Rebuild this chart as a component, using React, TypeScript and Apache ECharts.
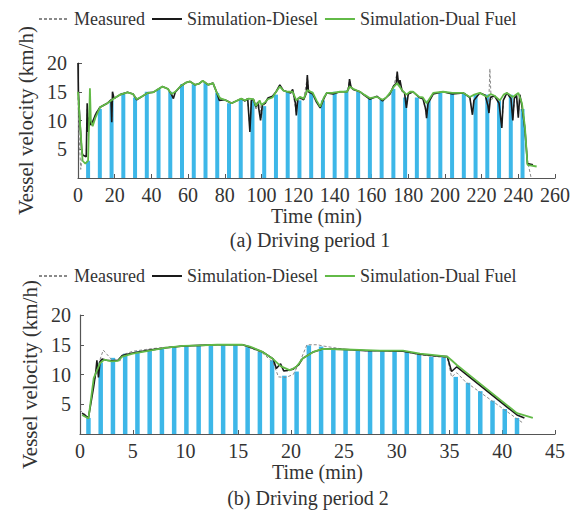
import React, { useEffect, useRef } from 'react';
import * as echarts from 'echarts';

const FONT = '"Liberation Serif", "Times New Roman", Times, serif';
const SERIES_NAMES = ['Measured', 'Simulation-Diesel', 'Simulation-Dual Fuel'];
const PANEL_TITLES = ['(a) Driving period 1', '(b) Driving period 2'];
const Y_NAME = 'Vessel velocity (km/h)';
const X_NAME = 'Time (min)';

// ---------- Panel (a): driving period 1 ----------
const barsA: [number, number][] = [
  [5.5, 3], [11.9, 12], [18.3, 13.5], [24.7, 14.8], [31.1, 14], [37.5, 15], [43.9, 15.5],
  [50.3, 15], [56.7, 16.3], [63.1, 16.3], [69.5, 16.5], [75.9, 14.8], [82.3, 13], [88.7, 13.7],
  [95.1, 13.5], [101.5, 12.5], [107.9, 14.5], [114.3, 15], [120.7, 13.5], [127.1, 15],
  [133.5, 13.5], [139.9, 15], [146.3, 15.2], [152.7, 15], [159.1, 13.9], [165.5, 13.6],
  [171.9, 15.5], [178.3, 14], [184.7, 14], [191.1, 13.5], [197.5, 14.8], [203.9, 14.8],
  [210.3, 14.8], [216.7, 14.5], [223.1, 14.5], [229.5, 13.5], [235.9, 14.5], [242.3, 12],
];

const measuredA: [number, number][] = [
  [0, 14], [0.5, 8], [1.5, 1.5], [2.5, 4], [4.5, 3.8], [5, 12], [6, 9], [7, 10], [8, 9.5],
  [10, 11.5], [12, 12.4], [16, 13], [18, 13.6], [18.5, 10], [19, 14.5], [20, 13.9], [23, 14.5],
  [27, 14.9], [30, 14.6], [32, 13.7], [35, 14.2], [38, 14.8], [41, 14.9], [44, 15.5], [46, 15.9],
  [49, 15.5], [51, 14.4], [52, 13.9], [53, 15], [56, 16], [59, 16.6], [61, 16.8], [63.8, 16.2],
  [66, 16.4], [68, 16.9], [71, 16.2], [73.6, 16.5], [75.7, 14.8], [77.4, 13.9], [80, 13.6],
  [83.7, 13], [87, 13.5], [89, 13.8], [91, 13.5], [92.5, 13.5], [93.7, 8.5], [94.5, 13.2],
  [95.6, 13.7], [97, 12], [99, 13], [100, 10.5], [101, 12.5], [103.5, 13.8], [106, 14.1],
  [108, 15], [110, 16], [112, 15.2], [114, 15], [117, 15.2], [119, 11.2], [120, 13.8],
  [123, 13.7], [125, 17.5], [126, 15], [128, 14.7], [130, 13.3], [132, 12.3], [134, 13.9],
  [135.6, 14.8], [139, 14.7], [142.8, 15], [146.6, 15], [148, 17], [149, 15.7], [150, 15.4],
  [153.7, 15], [156, 14.4], [159, 13.8], [163, 14.1], [166, 13.5], [168, 14], [170, 14.7],
  [172, 16], [174, 18.2], [175, 16], [176.6, 15.2], [178, 14.7], [179, 12.5], [180, 14.6],
  [182.6, 15], [186, 14], [188, 13.9], [190, 10.8], [191, 13], [193.6, 14.7], [199, 15],
  [204, 14.7], [210, 14.8], [213.6, 14], [215, 11.3], [216, 13.6], [219, 14.8], [222, 14.4],
  [223.8, 12], [224.5, 19], [225.2, 13.5], [227, 14.3], [229.5, 13], [231, 9], [232, 13.5],
  [233.8, 14.8], [236, 13.8], [237, 10.3], [238, 13.8], [239, 14.5], [240, 10.8], [241, 14.4],
  [242, 12.5], [243.6, 8], [245, 3], [247, 0],
];

const dieselA: [number, number][] = [
  [0, 20], [0.2, 15], [1, 10], [2, 5], [2.5, 4], [4.5, 3.7], [5, 13], [5.6, 8], [6.2, 10.5],
  [7, 9.2], [8, 9.8], [9.5, 11], [12, 12.3], [16, 13], [18, 13.6], [18.4, 9.7], [18.8, 15],
  [19.5, 14], [20, 13.9], [23, 14.5], [27, 14.9], [30, 14.6], [32, 13.6], [35, 14.2], [38, 14.8],
  [41, 14.9], [44, 15.5], [46, 15.9], [49, 15.5], [51, 14.5], [52, 13.8], [53, 14.9], [56, 16],
  [59, 16.6], [61, 16.8], [63.8, 16.2], [66, 16.4], [68, 16.9], [71, 16.2], [73.6, 16.5],
  [75.7, 14.8], [77, 13.5], [80, 13.6], [83.7, 13], [87, 13.5], [89, 13.8], [91, 13.4],
  [92.5, 13.8], [93.7, 8], [94.5, 13.5], [95.6, 13.7], [97, 12.3], [98, 13.2], [99.5, 10],
  [100.5, 12.8], [102, 13], [103.5, 13.9], [106, 14.2], [108, 15], [110, 16.2], [112, 15.2],
  [114, 15], [116, 14.8], [117, 15.4], [118.5, 13], [119, 10.9], [119.8, 13.8], [121, 14],
  [123, 13.6], [124.5, 14.8], [125, 17.9], [125.6, 15], [128, 14.6], [130, 13.2], [132, 12.2],
  [134, 13.8], [135.6, 14.8], [139, 14.6], [142.8, 15], [146.6, 15], [147.5, 15.5], [148, 17.2],
  [148.8, 15.8], [150, 15.4], [153.7, 15], [156, 14.4], [159, 13.7], [163, 14.2], [166, 13.4],
  [168, 14], [170, 14.6], [172, 16], [173.5, 16.5], [174, 18.5], [174.8, 16], [175.5, 17],
  [176.6, 15.2], [178, 14.8], [179, 12.2], [180, 14.6], [182.6, 15], [186, 14], [188, 13.8],
  [189.5, 12], [190, 10.4], [190.8, 13], [193.6, 14.6], [199, 15], [204, 14.6], [210, 14.8],
  [213.6, 14], [214.5, 12], [215, 11], [215.8, 13.5], [219, 14.8], [222, 14.4], [223.5, 12.5],
  [224, 11.3], [224.8, 14], [227, 14.3], [229.5, 13], [231, 8.7], [231.8, 13.5], [233.8, 14.8],
  [236, 13.8], [237, 10], [237.8, 13.8], [239, 14.5], [240, 10.5], [240.8, 14.5], [242, 12.5],
  [243.6, 8.5], [245, 2.5], [248, 2.3],
];

const dualFuelA: [number, number][] = [
  [0, 15], [1, 10], [2.5, 3], [4, 2.5], [5.5, 3], [6.5, 15.6], [7, 10], [8, 9], [9.5, 10.5],
  [12, 12.3], [16, 13], [20, 13.9], [23, 14.5], [27, 14.9], [30, 14.6], [32, 13.7], [35, 14.2],
  [38, 14.8], [41, 14.9], [44, 15.5], [46, 15.9], [49, 15.5], [51, 14.6], [53, 15], [56, 16],
  [59, 16.6], [61, 16.8], [63.8, 16.2], [66, 16.4], [68, 16.9], [71, 16.2], [73.6, 16.5],
  [75.7, 14.8], [77.4, 13.9], [80, 13.6], [83.7, 13], [87, 13.5], [89, 13.8], [91, 13.5],
  [93, 13.8], [95.6, 13.7], [97, 12.5], [99, 13.5], [100, 12.7], [102, 13.2], [103.5, 13.7],
  [106, 14], [108, 15], [110, 15.9], [112, 15.2], [114, 15], [117, 15], [119, 13.5], [121, 14.1],
  [123, 13.8], [125, 15.3], [128, 14.8], [130, 13.5], [132, 12.4], [134, 14], [135.6, 14.8],
  [139, 14.8], [142.8, 15], [146.6, 15], [148, 15.9], [150, 15.5], [153.7, 15], [156, 14.5],
  [159, 13.9], [163, 14.1], [166, 13.6], [168, 14], [170, 14.8], [172, 15.8], [174, 16.5],
  [175.5, 15.8], [176.6, 15.3], [179, 14.5], [181, 15], [182.6, 15], [186, 14.1], [188, 14],
  [190, 13], [193.6, 14.8], [199, 15], [204, 14.8], [210, 14.8], [213.6, 14.1], [216, 14.5],
  [219, 14.8], [223, 14.1], [225, 14.6], [227, 14.3], [230, 13.5], [232, 14.5], [233.8, 14.8],
  [237, 14.1], [240, 14.8], [242, 13], [243.6, 8.9], [245, 2.3], [250, 2],
];

// ---------- Panel (b): driving period 2 ----------
const barsB: [number, number][] = [
  [0.8, 2.7], [1.96, 12], [3.12, 12.8], [4.28, 13.5], [5.44, 13.9], [6.6, 14.1], [7.76, 14.4],
  [8.92, 14.6], [10.08, 14.8], [11.24, 14.9], [12.4, 15], [13.56, 15], [14.72, 15], [15.88, 14.6],
  [17.04, 13.8], [18.2, 12.4], [19.36, 9.8], [20.52, 10.5], [21.68, 14.9], [22.84, 14.7],
  [24, 14.4], [25.16, 14.2], [26.32, 14.1], [27.48, 14], [28.64, 14], [29.8, 14], [30.96, 13.9],
  [32.12, 13.5], [33.28, 13], [34.44, 13], [35.6, 9.6], [36.76, 8.6], [37.92, 7.2], [39.08, 5.6],
  [40.24, 4.2], [41.4, 2.7],
];

const measuredB: [number, number][] = [
  [0, 4], [0.8, 2.8], [1.3, 8.5], [1.8, 12], [2.2, 14.1], [2.5, 13.5], [3, 12.5], [3.8, 12.3],
  [4, 13.3], [5, 13.9], [6.6, 14.3], [8.2, 14.6], [9.8, 14.8], [11.4, 14.9], [13, 15], [15.4, 15],
  [16.1, 14.5], [17.3, 13.6], [18.3, 12], [18.8, 9.6], [19.5, 9.5], [20.2, 10], [20.8, 12],
  [21.5, 15], [22.5, 15], [23, 14.8], [25.2, 14.2], [27.1, 14], [28.4, 14], [30.6, 13.9],
  [32.2, 13.3], [33.8, 13], [34.8, 12.8], [35.2, 9.6], [35.7, 10.3], [36.5, 8.8], [42, 1.8],
];

const dieselB: [number, number][] = [
  [0.2, 3.5], [0.8, 2.7], [1.3, 8], [1.5, 10.5], [1.6, 12.4], [1.75, 9.5], [1.9, 12.2],
  [2.1, 12.6], [2.5, 12.4], [3, 12.3], [3.6, 12.4], [4, 13.2], [5, 13.6], [6.6, 14.1],
  [8.2, 14.5], [9.8, 14.8], [11.4, 14.9], [13, 15], [15.4, 15], [16.1, 14.6], [17.3, 13.8],
  [18.3, 12.6], [18.6, 11], [19, 11.8], [19.3, 10.6], [19.7, 10.7], [20.2, 10.9], [20.7, 11.6],
  [21.1, 12.7], [22.1, 13.8], [23, 14.3], [25.2, 14.2], [27.1, 14], [28.4, 14], [30.6, 13.9],
  [32.2, 13.4], [33.8, 13.1], [34.8, 13], [35.2, 10.5], [35.7, 11.3], [41.4, 3.2], [42.1, 2.7],
];

const dualFuelB: [number, number][] = [
  [0.2, 3.2], [0.8, 2.6], [1.3, 9.4], [1.9, 11.9], [2.3, 12.5], [3, 12.2], [3.6, 12.3], [4, 13],
  [5, 13.5], [6.6, 14], [8.2, 14.5], [9.8, 14.8], [11.4, 14.9], [13, 15], [15.4, 15], [16.1, 14.7],
  [17.3, 13.8], [18.3, 12.6], [19, 11.4], [19.9, 10.7], [20.5, 11.3], [21.1, 12.7], [22.1, 13.8],
  [23, 14.3], [25.2, 14.2], [27.1, 14.1], [28.4, 14], [30.6, 14], [32.2, 13.5], [33.8, 13.2],
  [34.8, 13], [35.2, 12.4], [35.7, 11.6], [36.9, 9.9], [41.4, 3.5], [42.9, 2.7],
];

const TEXT = '#333333';
const AXIS = '#555555';
const BAR = '#3db7e8';
const GREEN = '#62ba47';

function makeLines(idx: number, measured: [number, number][], diesel: [number, number][], dual: [number, number][], bars: [number, number][], barWidth: number) {
  return [
    {
      type: 'bar', name: 'bars' + idx, xAxisIndex: idx, yAxisIndex: idx, data: bars,
      barWidth, itemStyle: { color: BAR }, silent: true,
    },
    {
      type: 'line', name: SERIES_NAMES[0], xAxisIndex: idx, yAxisIndex: idx, data: measured,
      symbol: 'none', lineStyle: { color: '#8a8a8a', width: 1, type: [3, 2] }, itemStyle: { color: '#8a8a8a' },
    },
    {
      type: 'line', name: SERIES_NAMES[1], xAxisIndex: idx, yAxisIndex: idx, data: diesel,
      symbol: 'none', lineStyle: { color: '#1a1a1a', width: 1.6 }, itemStyle: { color: '#1a1a1a' },
    },
    {
      type: 'line', name: SERIES_NAMES[2], xAxisIndex: idx, yAxisIndex: idx, data: dual,
      symbol: 'none', lineStyle: { color: GREEN, width: 1.8 }, itemStyle: { color: GREEN },
    },
  ];
}

function xAxis(idx: number, max: number, interval: number) {
  return {
    type: 'value', gridIndex: idx, min: 0, max, interval,
    name: X_NAME, nameLocation: 'middle', nameGap: 27,
    nameTextStyle: { fontFamily: FONT, fontSize: 20, color: TEXT },
    axisLine: { lineStyle: { color: AXIS, width: 1.2 } },
    axisTick: { inside: true, length: 4, lineStyle: { color: AXIS } },
    axisLabel: { fontFamily: FONT, fontSize: 20, color: TEXT, margin: 7 },
    splitLine: { show: false },
  };
}

function yAxis(idx: number, margin: number) {
  return {
    type: 'value', gridIndex: idx, min: 0, max: 20, interval: 5,
    name: Y_NAME, nameLocation: 'middle', nameGap: 38, nameRotate: 90,
    nameTextStyle: { fontFamily: FONT, fontSize: 21, color: TEXT },
    axisLine: { show: true, lineStyle: { color: AXIS, width: 1.2 } },
    axisTick: { show: true, inside: true, length: 4, lineStyle: { color: AXIS } },
    axisLabel: { fontFamily: FONT, fontSize: 20, color: TEXT, margin, showMinLabel: false },
    splitLine: { show: false },
  };
}

function legend(top: number) {
  return {
    data: SERIES_NAMES, left: 33, top, itemWidth: 30, itemHeight: 10, itemGap: 6,
    itemStyle: { opacity: 0 },
    textStyle: { fontFamily: FONT, fontSize: 18, color: TEXT },
    selectedMode: false,
  };
}

export default function App() {
  const ref = useRef<HTMLDivElement>(null);
  useEffect(() => {
    if (!ref.current) return;
    const chart = echarts.init(ref.current, undefined, { renderer: 'svg' });
    chart.setOption({
      animation: false,
      backgroundColor: '#ffffff',
      legend: [legend(5), legend(262)],
      grid: [
        { left: 78, top: 63, width: 477, height: 115 },
        { left: 80, top: 315, width: 475, height: 119 },
      ],
      xAxis: [xAxis(0, 260, 20), xAxis(1, 45, 5)],
      yAxis: [yAxis(0, 11), yAxis(1, 9)],
      series: [
        ...makeLines(0, measuredA, dieselA, dualFuelA, barsA, 4),
        ...makeLines(1, measuredB, dieselB, dualFuelB, barsB, 4.5),
      ],
      graphic: [
        { type: 'text', x: 310, y: 240, style: { text: PANEL_TITLES[0], font: `20px ${FONT}`, fill: TEXT, textAlign: 'center', textVerticalAlign: 'middle' } },
        { type: 'text', x: 308, y: 498, style: { text: PANEL_TITLES[1], font: `20px ${FONT}`, fill: TEXT, textAlign: 'center', textVerticalAlign: 'middle' } },
      ],
    });
    return () => chart.dispose();
  }, []);
  return <div ref={ref} style={{ position: 'fixed', left: 0, top: 0, width: 577, height: 511, background: '#fff' }} />;
}
